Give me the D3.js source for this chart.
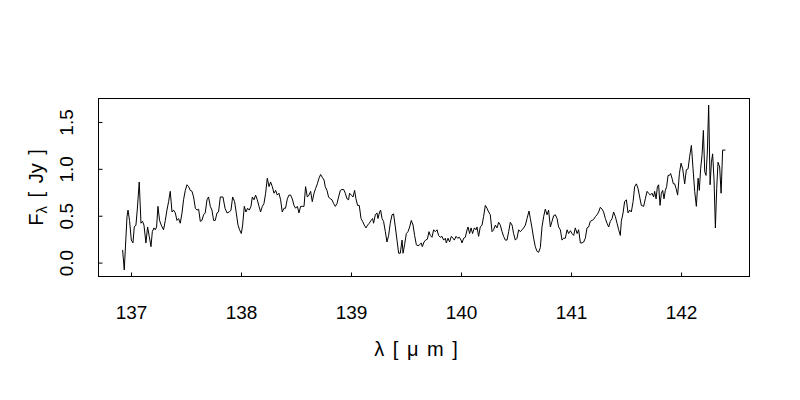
<!DOCTYPE html>
<html>
<head>
<meta charset="utf-8">
<script src="https://cdn.jsdelivr.net/npm/d3@7"></script>
<style>
  html, body { margin: 0; padding: 0; background: #fff; }
  svg text { font-family: "Liberation Sans Narrow", "Arial Narrow", "Liberation Sans", Arial, sans-serif; fill: #000; }
</style>
</head>
<body>
<svg id="chart" width="800" height="400"></svg>
<script>
// Wavelength (micron) values
const wavelength = [
136.924,136.939,136.964,136.973,136.987,137.003,137.018,137.030,137.045,137.057,
137.075,137.091,137.105,137.118,137.136,137.151,137.166,137.182,137.194,137.209,
137.221,137.233,137.245,137.260,137.275,137.296,137.312,137.327,137.342,137.357,
137.373,137.387,137.403,137.418,137.433,137.448,137.464,137.478,137.494,137.509,
137.524,137.539,137.555,137.569,137.585,137.600,137.615,137.630,137.645,137.660,
137.675,137.691,137.705,137.721,137.736,137.751,137.766,137.782,137.796,
137.812,137.836,137.855,137.873,137.894,137.909,137.924,137.942,137.957,137.973,
137.987,138.003,138.015,138.030,138.045,138.060,138.075,138.091,138.103,138.118,
138.133,138.148,138.164,138.178,138.194,138.209,138.224,138.239,138.255,138.269,
138.285,138.300,138.315,138.330,138.345,138.360,138.375,138.391,138.405,138.421,
138.436,138.451,138.466,138.482,138.496,138.512,138.527,138.542,138.557,138.573,
138.587,138.603,138.618,138.633,138.648,138.664,138.678,138.694,138.709,138.724,
138.739,138.755,
138.766,138.782,138.796,138.812,138.827,138.842,138.857,138.873,138.887,138.903,
138.918,138.933,138.948,138.964,138.978,138.987,139.003,139.018,139.033,139.045,
139.060,139.075,139.091,139.105,139.121,139.136,139.151,139.166,139.182,139.196,
139.205,139.221,139.236,139.245,139.260,139.269,139.282,139.296,139.312,139.327,
139.342,139.357,139.373,139.387,139.403,139.418,139.433,139.448,139.464,139.473,
139.487,139.503,139.518,139.533,139.548,139.564,139.578,139.594,139.609,139.624,
139.639,139.648,139.664,139.678,139.694,139.709,
139.721,139.736,139.751,139.766,139.782,139.796,139.812,139.827,139.842,139.857,
139.866,139.882,139.896,139.912,139.927,139.939,139.955,139.969,139.985,140.000,
140.009,140.024,140.039,140.055,140.064,140.078,140.091,140.105,140.121,140.136,
140.145,140.160,140.175,140.191,140.205,140.221,140.236,140.251,140.266,140.282,
140.296,140.312,140.327,140.342,140.357,140.373,140.387,140.403,140.418,140.433,
140.448,140.464,140.478,140.494,140.509,140.524,140.539,140.555,140.569,140.585,
140.600,140.618,140.630,140.645,140.660,
140.675,140.691,140.705,140.721,140.736,140.751,140.766,140.782,140.796,140.812,
140.827,140.842,140.857,140.873,140.887,140.903,140.918,140.933,140.948,140.964,
140.978,140.994,141.009,141.024,141.039,141.055,141.069,141.085,141.100,141.115,
141.130,141.145,141.160,141.175,141.191,141.205,141.221,141.236,141.251,141.266,
141.282,141.296,141.312,141.327,141.342,141.357,141.373,141.387,141.403,141.418,
141.433,141.448,141.457,141.473,141.487,141.503,141.518,141.533,141.548,141.564,
141.578,
141.594,141.609,141.624,141.639,141.660,141.675,141.691,141.705,141.721,141.736,
141.751,141.760,141.773,141.785,141.796,141.809,141.821,141.833,141.845,141.857,
141.869,141.882,141.894,141.905,141.918,141.930,141.942,141.955,141.969,141.985,
142.000,142.015,142.033,142.048,142.064,142.078,142.094,142.109,142.124,142.139,
142.155,142.166,142.178,142.191,142.203,142.215,142.227,142.239,142.251,142.264,
142.276,142.287,142.300,142.312,142.324,142.336,142.351,142.364,142.378,142.403
];

// Flux density (Jy) values
const flux = [
0.135,-0.078,0.49,0.56,0.45,0.24,0.21,0.38,0.40,0.56,
0.86,0.42,0.44,0.40,0.21,0.38,0.28,0.17,0.33,0.37,
0.35,0.38,0.60,0.45,0.40,0.35,0.45,0.56,0.65,0.76,
0.54,0.56,0.53,0.45,0.47,0.42,0.53,0.67,0.77,0.83,
0.81,0.77,0.76,0.70,0.58,0.56,0.57,0.44,0.45,0.51,
0.53,0.67,0.70,0.60,0.56,0.45,0.45,0.53,0.54,
0.70,0.70,0.58,0.53,0.54,0.56,0.70,0.65,0.53,0.40,
0.35,0.31,0.40,0.60,0.54,0.58,0.56,0.60,0.70,0.67,
0.72,0.67,0.60,0.54,0.60,0.63,0.74,0.90,0.81,0.86,
0.81,0.74,0.77,0.72,0.74,0.67,0.54,0.58,0.58,0.68,
0.72,0.72,0.68,0.61,0.58,0.60,0.53,0.60,0.60,0.60,
0.81,0.70,0.72,0.76,0.65,0.74,0.79,0.84,0.90,0.94,
0.91,0.88,
0.81,0.77,0.70,0.68,0.67,0.63,0.60,0.63,0.70,0.77,
0.78,0.78,0.74,0.68,0.67,0.74,0.72,0.70,0.77,0.68,
0.61,0.61,0.47,0.44,0.40,0.37,0.40,0.42,0.45,0.47,
0.42,0.51,0.53,0.47,0.54,0.56,0.47,0.44,0.33,0.22,
0.29,0.42,0.51,0.52,0.38,0.24,0.10,0.10,0.24,0.10,
0.19,0.31,0.33,0.38,0.45,0.40,0.29,0.19,0.18,0.19,
0.21,0.17,0.22,0.24,0.25,0.33,
0.29,0.27,0.35,0.33,0.35,0.29,0.27,0.28,0.24,0.26,
0.21,0.26,0.22,0.28,0.26,0.24,0.28,0.26,0.27,0.24,
0.21,0.26,0.27,0.35,0.38,0.31,0.37,0.31,0.37,0.35,
0.38,0.28,0.38,0.40,0.49,0.61,0.58,0.54,0.51,0.33,
0.35,0.40,0.37,0.43,0.40,0.33,0.28,0.24,0.24,0.33,
0.43,0.40,0.31,0.24,0.26,0.35,0.33,0.35,0.37,0.40,
0.47,0.55,0.47,0.37,0.26,
0.17,0.12,0.11,0.16,0.38,0.49,0.57,0.51,0.56,0.38,
0.44,0.50,0.51,0.47,0.38,0.35,0.24,0.26,0.26,0.35,
0.31,0.34,0.31,0.29,0.37,0.31,0.35,0.21,0.21,0.22,
0.26,0.37,0.38,0.44,0.45,0.46,0.49,0.51,0.54,0.59,
0.57,0.54,0.47,0.42,0.38,0.44,0.47,0.54,0.49,0.42,
0.35,0.29,0.44,0.53,0.65,0.67,0.53,0.56,0.54,0.65,
0.81,
0.84,0.79,0.70,0.61,0.60,0.68,0.76,0.74,0.72,0.74,
0.70,0.76,0.68,0.81,0.83,0.61,0.74,0.77,0.68,0.77,
0.81,0.93,0.93,0.95,0.90,0.84,0.84,0.79,0.72,0.95,
1.06,1.00,0.84,0.99,1.00,1.13,1.25,1.00,0.76,0.60,
0.90,0.77,1.00,1.15,1.41,0.97,0.93,1.18,1.68,0.83,
1.07,1.16,0.88,0.37,0.79,1.07,1.02,0.74,1.20,1.20
];

const xTicks = [137, 138, 139, 140, 141, 142];
const yTicks = [0, 0.5, 1.0, 1.5];
const yTickLabels = ["0.0", "0.5", "1.0", "1.5"];
const xTitle = "λ [ μ m ]";
const yTitleMain = "F";
const yTitleSub = "λ";
const yTitleRest = " [ Jy ]";

const data = wavelength.map((w, i) => ({ w: w, f: flux[i] }));

const box = { left: 98.5, right: 749.5, top: 98.5, bottom: 276.5 };

// R-style 4% padding of the data range
const xe = d3.extent(wavelength), ye = d3.extent(flux);
const xp = (xe[1] - xe[0]) * 0.04, yp = (ye[1] - ye[0]) * 0.04;

const x = d3.scaleLinear().domain([xe[0] - xp, xe[1] + xp]).range([box.left, box.right]);
const y = d3.scaleLinear().domain([ye[0] - yp, ye[1] + yp]).range([box.bottom, box.top]);

const svg = d3.select("#chart");

// data line
const line = d3.line().x(d => x(d.w)).y(d => y(d.f));
svg.append("path")
  .datum(data)
  .attr("d", line)
  .attr("fill", "none")
  .attr("stroke", "#000")
  .attr("stroke-width", 1)
  .attr("stroke-linejoin", "round");

// x axis (ticks point inward)
const xAxis = d3.axisBottom(x).tickValues(xTicks).tickFormat(d3.format("d"))
  .tickSize(-4).tickPadding(29).tickSizeOuter(0);
const gx = svg.append("g").attr("transform", `translate(0,${box.bottom})`).call(xAxis);
gx.select(".domain").remove();
gx.selectAll(".tick line").attr("stroke", "#000");
gx.selectAll(".tick text").attr("font-size", "19px").attr("fill", "#000");

// y axis (ticks point inward, labels rotated)
const yAxis = d3.axisLeft(y).tickValues(yTicks).tickFormat((d, i) => yTickLabels[i])
  .tickSize(-4).tickPadding(0).tickSizeOuter(0);
const gy = svg.append("g").attr("transform", `translate(${box.left},0)`).call(yAxis);
gy.select(".domain").remove();
gy.selectAll(".tick line").attr("stroke", "#000");
gy.selectAll(".tick text")
  .attr("font-size", "19px")
  .attr("fill", "#000")
  .attr("x", null).attr("dy", null)
  .attr("text-anchor", "middle")
  .attr("transform", "translate(-26,0) rotate(-90)");

// box
svg.append("rect")
  .attr("x", box.left).attr("y", box.top)
  .attr("width", box.right - box.left).attr("height", box.bottom - box.top)
  .attr("fill", "none").attr("stroke", "#000").attr("stroke-width", 1);

// x title
svg.append("text")
  .attr("x", 416).attr("y", 356)
  .attr("text-anchor", "middle").attr("font-size", "20px")
  .attr("word-spacing", "3px")
  .text(xTitle);

// y title with subscript
const yt = svg.append("text")
  .attr("text-anchor", "middle").attr("font-size", "20px")
  .attr("word-spacing", "3px")
  .attr("transform", `translate(43,${(box.top + box.bottom) / 2}) rotate(-90)`);
yt.append("tspan").text(yTitleMain);
yt.append("tspan").attr("font-size", "15px").attr("dy", 4).text(yTitleSub);
yt.append("tspan").attr("dy", -4).text(yTitleRest);
</script>
</body>
</html>
